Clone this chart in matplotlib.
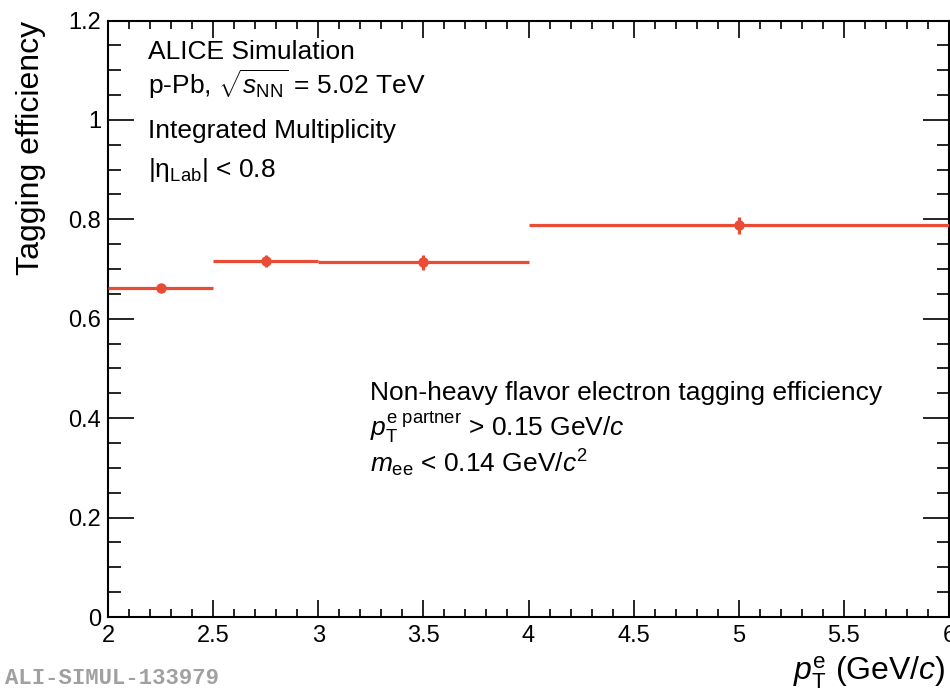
import matplotlib
matplotlib.use("Agg")
import matplotlib.pyplot as plt
from matplotlib.ticker import MultipleLocator
import numpy as np

# data
bin_lo = [2.0, 2.5, 3.0, 4.0]
bin_hi = [2.5, 3.0, 4.0, 6.0]
bin_center = [2.25, 2.75, 3.5, 5.0]
efficiency = [0.661, 0.716, 0.714, 0.788]
eff_err = [0.006, 0.012, 0.015, 0.017]

plt.rcParams['font.family'] = ['Liberation Sans', 'DejaVu Sans']
plt.rcParams['mathtext.fontset'] = 'custom'
plt.rcParams['mathtext.rm'] = 'Liberation Sans'
plt.rcParams['mathtext.it'] = 'Liberation Sans:italic'
plt.rcParams['mathtext.bf'] = 'Liberation Sans:bold'

red = '#E94B35'

fig = plt.figure(figsize=(9.5, 6.89), dpi=100)
ax = fig.add_axes([108/950, (689-617)/689, (949-108)/950, (617-20.5)/689])

lo = np.array(bin_lo); hi = np.array(bin_hi)
ax.hlines(efficiency, lo, hi, color=red, lw=2.3, zorder=3)
ax.errorbar(bin_center, efficiency, yerr=eff_err, fmt='o', color=red,
            ms=6.5, lw=2.3, capsize=0, zorder=4)

ax.set_xlim(2, 6)
ax.set_ylim(0, 1.2)
ax.xaxis.set_major_locator(MultipleLocator(0.5))
ax.xaxis.set_minor_locator(MultipleLocator(0.1))
ax.yaxis.set_major_locator(MultipleLocator(0.2))
ax.yaxis.set_minor_locator(MultipleLocator(0.05))
ax.set_xticks([2, 2.5, 3, 3.5, 4, 4.5, 5, 5.5, 6])
ax.set_xticklabels(['2', '2.5', '3', '3.5', '4', '4.5', '5', '5.5', '6'])
ax.set_yticks([0, 0.2, 0.4, 0.6, 0.8, 1.0, 1.2])
ax.set_yticklabels(['0', '0.2', '0.4', '0.6', '0.8', '1', '1.2'])

for s in ax.spines.values():
    s.set_linewidth(1.5)
ax.tick_params(which='both', direction='in', top=True, right=True, labelsize=17, width=1.2)
ax.tick_params(axis='y', which='major', length=18.5)
ax.tick_params(axis='y', which='minor', length=9)
ax.tick_params(axis='x', which='major', length=12.3)
ax.tick_params(axis='x', which='minor', length=6)
ax.tick_params(axis='x', which='major', pad=6)
ax.tick_params(axis='y', which='major', pad=5)

ax.set_ylabel('Tagging efficiency', fontsize=23)
ax.yaxis.set_label_coords(-0.074, 1.0)
ax.yaxis.label.set_horizontalalignment('right')

fig.text(946/950, 1 - 680/689, r'$p_{\rm T}^{\rm e}$ (GeV/$c$)', fontsize=23,
         ha='right', va='baseline')

fs = 19
fig.text(148/950, 1 - 59/689, 'ALICE Simulation', fontsize=fs, va='baseline')
fig.text(148/950, 1 - 94/689, r'p-Pb, $\sqrt{s_{\rm NN}}$ = 5.02 TeV', fontsize=fs, va='baseline')
fig.text(148/950, 1 - 138/689, 'Integrated Multiplicity', fontsize=fs, va='baseline')
fig.text(148/950, 1 - 177/689, r'|η$_{\rm Lab}$| < 0.8', fontsize=fs, va='baseline')

fig.text(370/950, 1 - 400/689, 'Non-heavy flavor electron tagging efficiency', fontsize=fs, va='baseline')
fig.text(370/950, 1 - 436/689, r'$p_{\rm T}^{\rm e\ partner}$ > 0.15 GeV/$c$', fontsize=fs, va='baseline')
fig.text(370/950, 1 - 472/689, r'$m_{\rm ee}$ < 0.14 GeV/$c^{2}$', fontsize=fs, va='baseline')

fig.text(5/950, 1 - 684/689, 'ALI-SIMUL-133979', fontsize=16, color='#A0A0A0',
         family='Liberation Mono', weight='bold', va='baseline')

fig.savefig('out.png', dpi=100)
